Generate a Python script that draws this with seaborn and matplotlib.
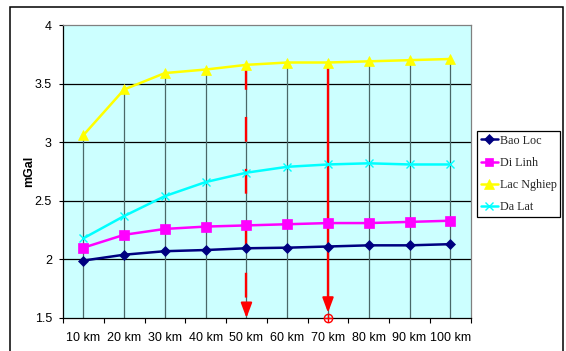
import numpy as np
import pandas as pd
import matplotlib
matplotlib.use("Agg")
import matplotlib.pyplot as plt
from matplotlib.patches import Rectangle
from matplotlib.lines import Line2D
import seaborn as sns

# Distance steps and gravity values (mGal) for each station
distances = ["10 km", "20 km", "30 km", "40 km", "50 km",
             "60 km", "70 km", "80 km", "90 km", "100 km"]
bao_loc = [1.99, 2.04, 2.07, 2.08, 2.095, 2.10, 2.11, 2.12, 2.12, 2.13]
di_linh = [2.10, 2.21, 2.26, 2.28, 2.29, 2.30, 2.31, 2.31, 2.32, 2.33]
lac_nghiep = [3.06, 3.45, 3.59, 3.62, 3.66, 3.68, 3.68, 3.69, 3.70, 3.71]
da_lat = [2.18, 2.37, 2.54, 2.66, 2.74, 2.79, 2.81, 2.82, 2.81, 2.81]
y_ticks = [1.5, 2, 2.5, 3, 3.5, 4]
marked_steps = ["50 km", "70 km"]

series = {
    "Bao Loc": bao_loc,
    "Di Linh": di_linh,
    "Lac Nghiep": lac_nghiep,
    "Da Lat": da_lat,
}
styles = {
    "Bao Loc": dict(color="#000080", marker="D", ms=5.5, mew=0.5),
    "Di Linh": dict(color="#FF00FF", marker="s", ms=6.5, mew=0.5),
    "Lac Nghiep": dict(color="#FFFF00", marker="^", ms=7.5, mew=0.5),
    "Da Lat": dict(color="#00FFFF", marker="x", ms=6, mew=1.0),
}

df = pd.DataFrame({"distance": np.tile(distances, len(series)),
                   "station": np.repeat(list(series.keys()), len(distances)),
                   "value": np.concatenate([series[k] for k in series])})

sns.set_theme(style="white")
plt.rcParams["font.family"] = ["Liberation Sans", "DejaVu Sans"]

fig = plt.figure(figsize=(5.66, 3.51), dpi=100)
ax = fig.add_axes([63 / 566, 33 / 351, 407.7 / 566, 293 / 351])
ax.set_facecolor("#CCFFFF")

x_pos = np.arange(len(distances))

# horizontal grid and drop lines
for yv in y_ticks[1:-1]:
    ax.axhline(yv, color="black", lw=0.9, zorder=1)
ax.vlines(x_pos, 1.5, lac_nghiep, color="#4a6868", lw=0.9, zorder=1)

# red markers at the selected distances
for i, step in enumerate(marked_steps):
    xi = distances.index(step)
    top = lac_nghiep[xi]
    ls = (0, (10.5, 11.5)) if i == 0 else "-"
    ax.plot([xi, xi], [top, 1.58], color="#FF0000", lw=1.7, ls=ls, zorder=2,
            solid_capstyle="butt", dash_capstyle="butt")
    ax.annotate("", xy=(xi, 1.5 if i == 0 else 1.545), xytext=(xi, 1.62),
                arrowprops=dict(arrowstyle="-|>,head_length=0.75,head_width=0.28",
                                color="#FF0000", lw=1.5, shrinkA=0, shrinkB=0),
                zorder=2)
    if i == 1:
        ax.plot([xi], [1.5], marker="o", ms=6, mfc="none", mec="#FF0000",
                mew=1.0, zorder=4, clip_on=False)
        ax.plot([xi], [1.5], marker="+", ms=6, mec="#FF0000", mew=1.0,
                zorder=4, clip_on=False)

for name in series:
    st = styles[name]
    sub = df[df["station"] == name]
    sns.lineplot(data=sub, x="distance", y="value", ax=ax, color=st["color"],
                 marker=st["marker"], markersize=st["ms"],
                 markeredgecolor=st["color"], markeredgewidth=st["mew"],
                 lw=1.8, sort=False, legend=False, zorder=3)

ax.set_xlim(-0.5, len(distances) - 0.5)
ax.set_ylim(1.5, 4)
ax.set_yticks(y_ticks)
ax.set_yticklabels(["1.5", "2", "2.5", "3", "3.5", "4"])
ax.set_xticks(x_pos)
ax.set_xticklabels(distances)
ax.set_xticks(np.arange(-0.5, len(distances)), minor=True)
ax.tick_params(axis="x", which="major", length=0, pad=10, labelsize=9, colors="black")
ax.tick_params(axis="x", which="minor", length=3.5, width=0.8, color="black",
               direction="out", bottom=True)
ax.tick_params(axis="y", which="major", length=3, width=0.8, color="black",
               direction="out", left=True, pad=5, labelsize=9, labelcolor="black")
ax.set_xlabel("")
ax.set_ylabel("mGal", fontsize=9, fontweight="bold", color="black", labelpad=0)

for side in ["left", "bottom"]:
    ax.spines[side].set_color("black")
    ax.spines[side].set_linewidth(0.9)
for side in ["top", "right"]:
    ax.spines[side].set_color("#808080")
    ax.spines[side].set_linewidth(0.9)

handles = [Line2D([], [], color=styles[n]["color"], marker=styles[n]["marker"],
                  ms=styles[n]["ms"] * 0.95, mec=styles[n]["color"], lw=1.8,
                  mew=styles[n]["mew"]) for n in series]
leg = ax.legend(handles, list(series.keys()), loc="upper left",
                bbox_to_anchor=(477 / 566, 1 - 131 / 351),
                bbox_transform=fig.transFigure, frameon=True, fancybox=False,
                edgecolor="black", framealpha=1, borderpad=0.3,
                handlelength=1.4, handletextpad=0.2, labelspacing=0.85,
                borderaxespad=0, prop={"family": "Liberation Serif", "size": 8.7})
leg.get_frame().set_linewidth(0.9)

# outer chart border
fig.add_artist(Rectangle((9.5 / 566, -0.1), (563 - 9.5) / 566, 1.1 - 7.5 / 351,
                         transform=fig.transFigure, fill=False, edgecolor="black",
                         lw=1.1, clip_on=False))

fig.savefig("out.png", dpi=100)
